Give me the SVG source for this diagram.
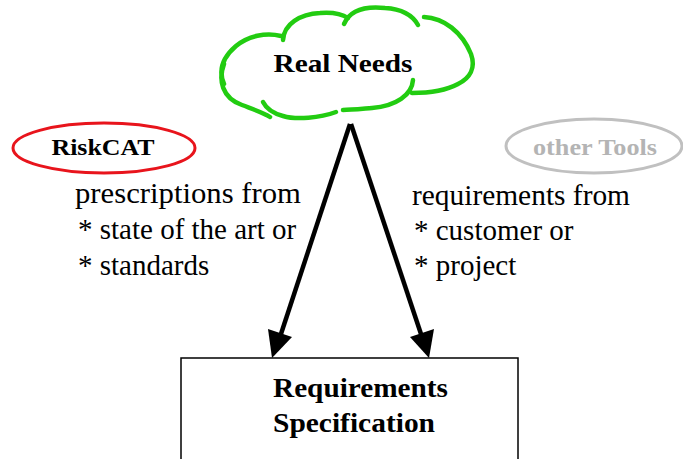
<svg xmlns="http://www.w3.org/2000/svg" width="683" height="459" viewBox="0 0 683 459">
<style>
.t{font-family:"Liberation Serif","Times New Roman",serif;fill:#000}
.b{font-weight:bold}
.cl{fill:none;stroke:#22cc11;stroke-width:4.5;stroke-linecap:round}
.ar{stroke:#000;stroke-width:4.5;fill:none}
</style>
<rect width="683" height="459" fill="#fff"/>
<g id="connectors">
<path class="ar" d="M350,124 L279,340"/>
<path d="M272,358 L268,329 L292,337 Z" fill="#000"/>
<path class="ar" d="M351,124 L423,340"/>
<path d="M429,358 L410,337 L434,329 Z" fill="#000"/>
</g>
<g id="real-needs">
<path class="cl" d="M224,84 C218,70 222,58 236,46 C248,36 266,32 281,36"/>
<path class="cl" d="M283,40 C284,24 300,14 320,13 C333,12 342,14 348,18"/>
<path class="cl" d="M344,24 C350,10 366,6 385,8 C402,9 413,16 418,25"/>
<path class="cl" d="M424,17 C444,18 462,32 471,54 C476,68 470,78 458,84 C445,91 428,93 412,93"/>
<path class="cl" d="M413,80 C412,95 396,106 372,108 C360,109 350,110 343,110"/>
<path class="cl" d="M336,112 C320,118 296,120 283,116 C272,113 266,108 263,102"/>
<path class="cl" d="M224,64 C218,80 222,98 242,105 C255,110 264,113 270,117"/>
<text class="t b" x="343" y="72" font-size="26" text-anchor="middle" textLength="139" lengthAdjust="spacingAndGlyphs">Real Needs</text>
</g>
<g id="riskcat">
<ellipse cx="104" cy="148" rx="91" ry="25" fill="none" stroke="#e8141c" stroke-width="3"/>
<text class="t b" x="103" y="155" font-size="24" text-anchor="middle" textLength="103" lengthAdjust="spacingAndGlyphs">RiskCAT</text>
</g>
<g id="other-tools">
<ellipse cx="594" cy="146" rx="88" ry="27" fill="none" stroke="#c0c0c0" stroke-width="3"/>
<text class="t b" x="595" y="155" font-size="24" text-anchor="middle" style="fill:#b4b4b4" textLength="124" lengthAdjust="spacingAndGlyphs">other Tools</text>
</g>
<g id="left-label">
<text class="t" x="75" y="203" font-size="29" textLength="226" lengthAdjust="spacingAndGlyphs">prescriptions from</text>
<text class="t" x="78" y="239" font-size="29">* state of the art or</text>
<text class="t" x="78" y="275" font-size="29">* standards</text>
</g>
<g id="right-label">
<text class="t" x="412" y="205" font-size="29" textLength="218" lengthAdjust="spacingAndGlyphs">requirements from</text>
<text class="t" x="414" y="240" font-size="29">* customer or</text>
<text class="t" x="414" y="275" font-size="29">* project</text>
</g>
<g id="requirements-spec">
<rect x="181" y="358" width="337" height="110" fill="#fff" stroke="#000" stroke-width="1.5"/>
<text class="t b" x="273" y="397" font-size="27" textLength="175" lengthAdjust="spacingAndGlyphs">Requirements</text>
<text class="t b" x="273" y="432" font-size="27" textLength="162" lengthAdjust="spacingAndGlyphs">Specification</text>
</g>
</svg>
